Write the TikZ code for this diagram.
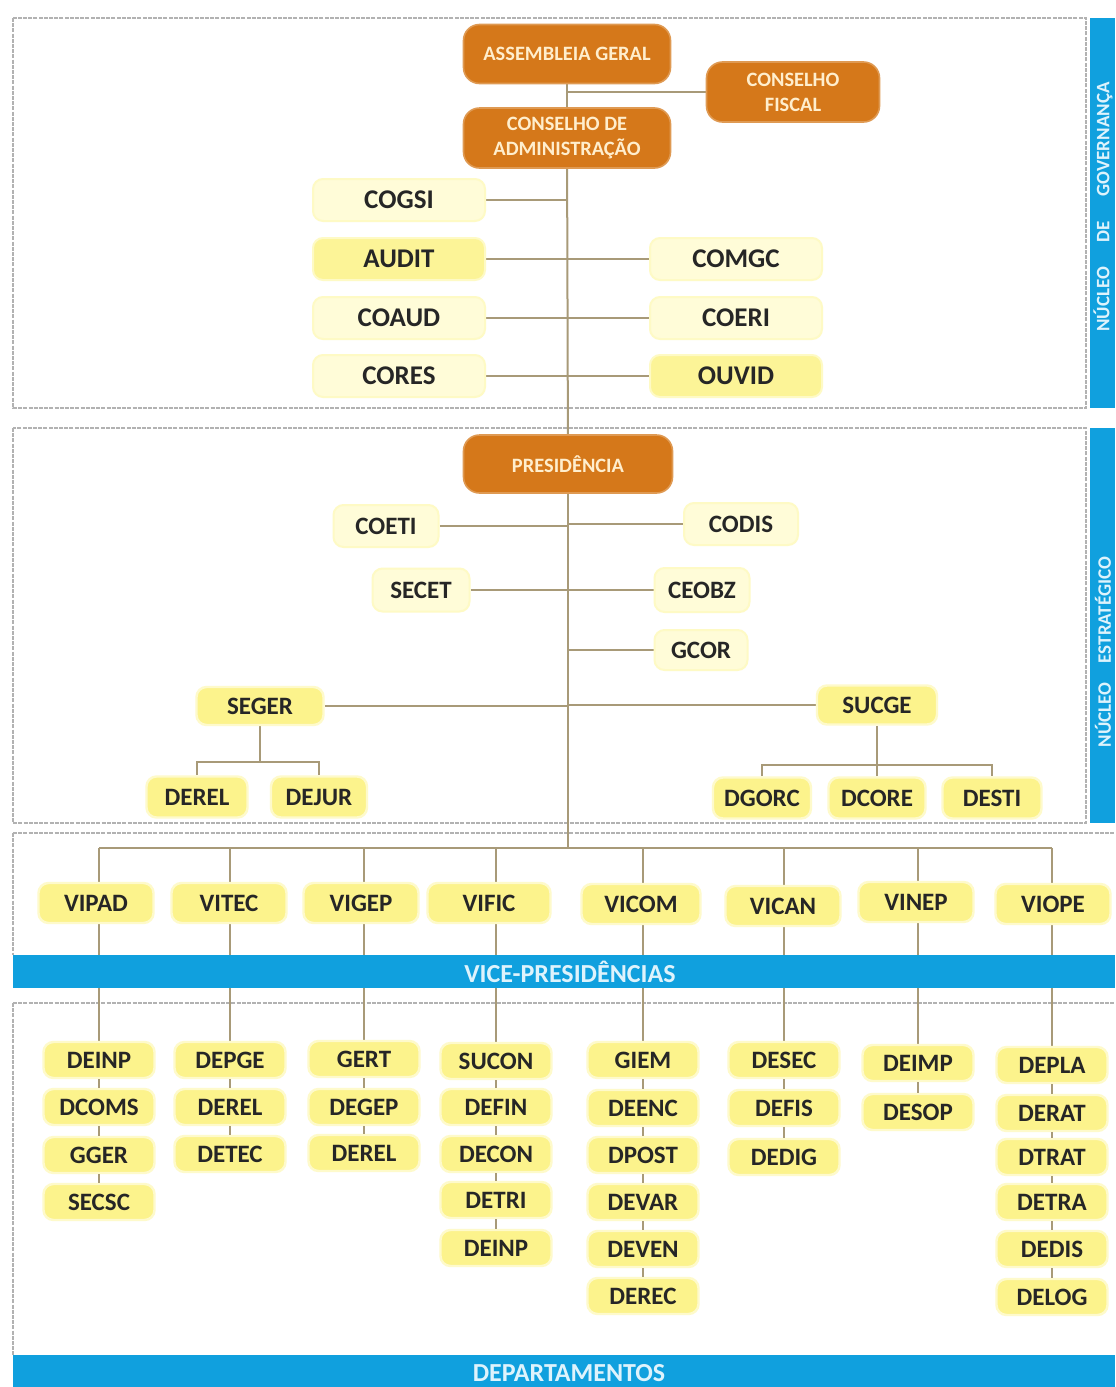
\documentclass[tikz,border=0pt]{standalone}
\usepackage{fontspec}
\setmainfont{Carlito}
\usetikzlibrary{calc}
\definecolor{orgfill}{RGB}{213,120,26}
\definecolor{orgtext}{RGB}{255,238,205}
\definecolor{palefill}{RGB}{255,252,216}
\definecolor{yelfill}{RGB}{252,243,140}
\definecolor{barblue}{RGB}{16,160,222}
\definecolor{bartext}{RGB}{222,243,252}
\definecolor{linkcol}{RGB}{168,154,120}
\definecolor{framecol}{RGB}{178,178,178}
\pgfdeclarelayer{frames}
\pgfdeclarelayer{links}
\pgfsetlayers{frames,links,main}
\begin{document}
\begin{tikzpicture}[x=0.5pt,y=-0.5pt,
  sz/.style 2 args={minimum width=#1*0.5pt, minimum height=#2*0.5pt},
  box/.style={rounded corners=5pt, inner sep=0pt, text=black!85,
    font=\fontsize{12.5}{14}\selectfont\bfseries},
  pale/.style={box, fill=palefill, draw=palefill!75!yelfill, line width=1pt},
  yel/.style={box, fill=yelfill, draw=yelfill!45!white, line width=1.2pt},
  orgbox/.style={rounded corners=8pt, fill=orgfill, draw=orgfill!75!white,
    line width=0.8pt, inner sep=0pt, align=center, text=orgtext,
    font=\fontsize{10.2}{12.5}\selectfont\bfseries},
  gov/.style={pale, sz={172}{42}, font=\fontsize{13.5}{15}\selectfont\bfseries},
  vp/.style={yel, sz={115}{40}},
  dept/.style={yel, sz={111}{36}},
  link/.style={draw=linkcol, line width=1pt},
  frame/.style={draw=framecol, line width=0.8pt, dash pattern=on 2pt off 0.6pt},
  sidelab/.style={rotate=90, text=bartext, font=\fontsize{9.5}{11}\selectfont\bfseries},
  barlab/.style={text=bartext, font=\fontsize{13}{15}\selectfont\bfseries}
]
\useasboundingbox (0,0) rectangle (1115,1387);

% section frames
\begin{pgfonlayer}{frames}
  \fill[white] (0,0) rectangle (1115,1387);
  \draw[frame] (13,18) rectangle (1086,408);
  \draw[frame] (13,428) rectangle (1086,823);
  \draw[frame] (13,833) -- (1115,833);
  \draw[frame] (13,833) -- (13,955);
  \draw[frame] (13,1003) -- (1115,1003);
  \draw[frame] (13,1003) -- (13,1355);
\end{pgfonlayer}

% blue bands
\fill[barblue] (1090,18) rectangle (1115,408);
\fill[barblue] (1090,428) rectangle (1115,823);
\fill[barblue] (13,955) rectangle (1115,988);
\fill[barblue] (13,1355) rectangle (1115,1387);
\node[sidelab] (govlab) at (1103,207) {NÚCLEO\hspace{1.3em}DE\hspace{1.3em}GOVERNANÇA};
\node[sidelab] (estlab) at (1103,652) {NÚCLEO\hspace{1em}ESTRATÉGICO};
\node[barlab] (vplab) at (570,972) {VICE-PRESIDÊNCIAS};
\node[barlab] (deplab) at (569,1373) {DEPARTAMENTOS};

% governance
\node[orgbox, sz={207}{59}] (ag) at (567,54) {ASSEMBLEIA GERAL};
\node[orgbox, sz={173}{60}] (cf) at (793,92) {CONSELHO\\FISCAL};
\node[orgbox, sz={207}{60}] (ca) at (567,138) {CONSELHO DE\\ADMINISTRAÇÃO};
\node[gov] (cogsi) at (399,200) {COGSI};
\node[gov, fill=yelfill!85!palefill] (audit) at (399,259) {AUDIT};
\node[gov] (coaud) at (399,318) {COAUD};
\node[gov] (cores) at (399,376) {CORES};
\node[gov] (comgc) at (736,259) {COMGC};
\node[gov] (coeri) at (736,318) {COERI};
\node[gov, fill=yelfill!85!palefill] (ouvid) at (736,376) {OUVID};

% strategic core
\node[orgbox, sz={209}{58}] (pres) at (568,464) {PRESIDÊNCIA};
\node[pale, sz={105}{42}] (coeti) at (386,526) {COETI};
\node[pale, sz={114}{42}] (codis) at (741,524) {CODIS};
\node[pale, sz={97}{43}] (secet) at (421,590) {SECET};
\node[pale, sz={95}{44}] (ceobz) at (702,590) {CEOBZ};
\node[pale, sz={93}{40}] (gcor) at (701,650) {GCOR};
\node[yel, sz={127}{38}] (seger) at (260,706) {SEGER};
\node[yel, sz={120}{39}] (sucge) at (877,705) {SUCGE};
\node[yel, sz={101}{41}] (derel) at (197,797) {DEREL};
\node[yel, sz={96}{41}] (dejur) at (319,797) {DEJUR};
\node[yel, sz={98}{41}] (dgorc) at (762,798) {DGORC};
\node[yel, sz={97}{41}] (dcore) at (877,798) {DCORE};
\node[yel, sz={99}{41}] (desti) at (992,798) {DESTI};
\coordinate (sgj) at (260,762);
\coordinate (scj) at (877,765);

% vice-presidencies
\node[vp] (vipad) at (96,903) {VIPAD};
\node[vp] (vitec) at (229,903) {VITEC};
\node[vp] (vigep) at (361,903) {VIGEP};
\node[vp, sz={123}{40}] (vific) at (489,903) {VIFIC};
\node[vp, sz={119}{40}] (vicom) at (641,904) {VICOM};
\node[vp] (vican) at (783,906) {VICAN};
\node[vp] (vinep) at (916,902) {VINEP};
\node[vp] (viope) at (1053,904) {VIOPE};
\coordinate (vpj) at (568,848);

% departments, one column per vice-presidency
\foreach \c/\x/\items in {
  1/99/{DEINP/1060,DCOMS/1107,GGER/1155,SECSC/1202},
  2/230/{DEPGE/1060,DEREL/1107,DETEC/1154},
  3/364/{GERT/1059,DEGEP/1107,DEREL/1153},
  4/496/{SUCON/1061,DEFIN/1107,DECON/1154,DETRI/1200,DEINP/1248},
  5/643/{GIEM/1060,DEENC/1108,DPOST/1155,DEVAR/1202,DEVEN/1249,DEREC/1296},
  6/784/{DESEC/1060,DEFIS/1108,DEDIG/1157},
  7/918/{DEIMP/1063,DESOP/1112},
  8/1052/{DEPLA/1065,DERAT/1113,DTRAT/1157,DETRA/1202,DEDIS/1249,DELOG/1297}}
{
  \foreach \t/\y [count=\i] in \items {
    \node[dept] (c\c-\i) at (\x,\y) {\t};
    \ifnum\i>1
      \pgfmathtruncatemacro\prev{\i-1}
      \draw[link] (c\c-\prev.south) -- (c\c-\i.north);
    \fi
  }
}

% connectors
\begin{pgfonlayer}{links}
  \draw[link] (ag) -- (ca);
  \draw[link] (cf.west) -- (cf.west -| ag.south);
  \draw[link] (ca) -- (pres);
  \foreach \n in {cogsi,audit,coaud,cores}
    \draw[link] (\n.east) -- (\n.east -| ca.south);
  \foreach \n in {comgc,coeri,ouvid}
    \draw[link] (\n.west) -- (\n.west -| ca.south);
  \foreach \n in {coeti,secet,seger}
    \draw[link] (\n.east) -- (\n.east -| pres.south);
  \foreach \n in {codis,ceobz,gcor,sucge}
    \draw[link] (\n.west) -- (\n.west -| pres.south);
  \draw[link] (seger) -- (sgj);
  \draw[link] (derel.north) |- (sgj) -| (dejur.north);
  \draw[link] (sucge) -- (scj);
  \draw[link] (dgorc.north) |- (scj) -| (desti.north);
  \draw[link] (dcore.north) -- (scj);
  \draw[link] (pres) -- (vpj);
  \draw[link] (c1-1.north |- vpj) -- (c8-1.north |- vpj);
  \foreach \c in {1,...,8}
    \draw[link] (c\c-1.north) -- (c\c-1.north |- vpj);
\end{pgfonlayer}
\end{tikzpicture}
\end{document}
